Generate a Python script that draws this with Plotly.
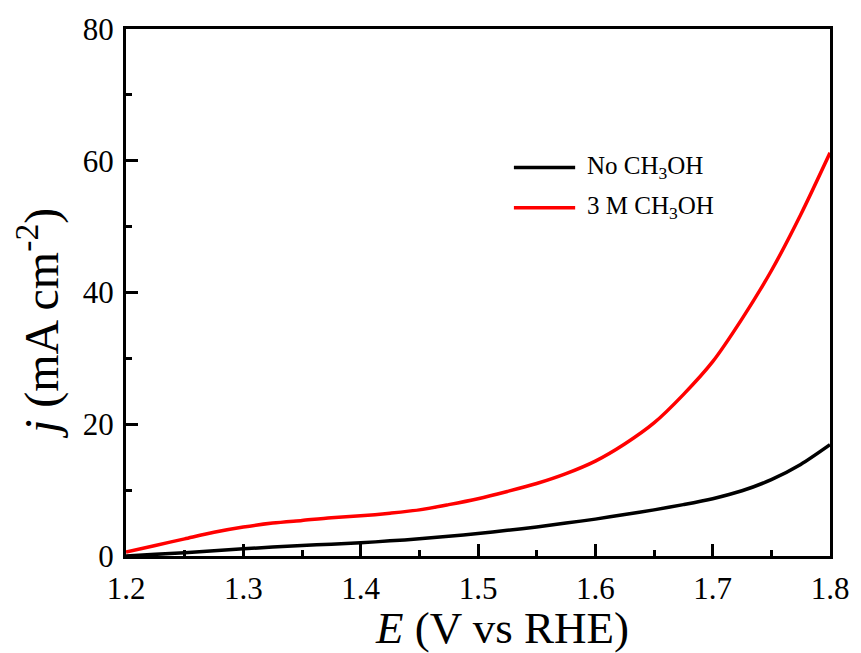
import plotly.graph_objects as go

# Linear sweep voltammetry: potential (V vs RHE) and current density (mA cm^-2)
potential = [1.2, 1.225, 1.25, 1.275, 1.3, 1.325, 1.35, 1.375, 1.4, 1.425, 1.45,
             1.475, 1.5, 1.525, 1.55, 1.575, 1.6, 1.625, 1.65, 1.675, 1.7,
             1.725, 1.75, 1.775, 1.8]
j_no_methanol = [0.0, 0.25, 0.5, 0.8, 1.1, 1.35, 1.6, 1.8, 2.0, 2.3, 2.6,
                 3.0, 3.4, 3.9, 4.4, 5.0, 5.6, 6.3, 7.0, 7.8, 8.7,
                 9.9, 11.6, 13.9, 16.9]
j_methanol = [0.6, 1.6, 2.6, 3.6, 4.4, 5.0, 5.4, 5.8, 6.1, 6.5, 7.0,
              7.8, 8.7, 9.8, 11.0, 12.5, 14.4, 17.0, 20.2, 24.5, 29.5,
              36.0, 43.3, 51.8, 61.2]
series_names = ["No CH<sub>3</sub>OH", "3 M CH<sub>3</sub>OH"]
series_colors = ["#000000", "#ff0000"]

x_ticks = [1.2, 1.3, 1.4, 1.5, 1.6, 1.7, 1.8]
y_ticks = [0, 20, 40, 60, 80]
x_title = "<i>E</i> (V vs RHE)"
y_title = "<i>j</i> (mA cm<sup>-2</sup>)"

FONT = "Liberation Serif, Times New Roman, serif"

fig = go.Figure()
for name, ys, color in zip(series_names, [j_no_methanol, j_methanol], series_colors):
    fig.add_trace(go.Scatter(
        x=potential, y=ys, mode="lines", name=name, showlegend=False,
        line=dict(color=color, width=3.5, shape="spline", smoothing=0.8),
    ))

# Legend drawn as line keys with labels beside them (paper coordinates)
legend_x0, legend_x1, legend_text_x = 0.551, 0.638, 0.652
legend_rows_y = [0.737, 0.661]
for name, color, ly in zip(series_names, series_colors, legend_rows_y):
    fig.add_shape(type="line", xref="paper", yref="paper",
                  x0=legend_x0, x1=legend_x1, y0=ly, y1=ly,
                  line=dict(color=color, width=3.5))
    fig.add_annotation(xref="paper", yref="paper", x=legend_text_x, y=ly,
                       xanchor="left", yanchor="middle", showarrow=False,
                       text=name, font=dict(family=FONT, size=25, color="black"))

# Axis titles placed as annotations
fig.add_annotation(xref="paper", yref="paper", x=0.5345, y=-0.137,
                   xanchor="center", yanchor="middle", showarrow=False,
                   text=x_title, font=dict(family=FONT, size=45, color="black"))
fig.add_annotation(xref="paper", yref="paper", x=-0.125, y=0.44,
                   xanchor="center", yanchor="middle", showarrow=False,
                   textangle=-90,
                   text=y_title, font=dict(family=FONT, size=48, color="black"))

axis_common = dict(
    showline=True, linewidth=3, linecolor="black", mirror=True,
    ticks="inside", ticklen=12, tickwidth=3, tickcolor="black",
    showgrid=False, zeroline=False,
    tickfont=dict(family=FONT, size=31, color="black"),
)

fig.update_xaxes(
    range=[1.2, 1.8], tickvals=x_ticks,
    ticktext=[f"{v:.1f}" for v in x_ticks],
    ticklabelstandoff=3,
    minor=dict(ticks="inside", ticklen=6, tickwidth=3, tickcolor="black", dtick=0.05),
    **axis_common,
)
fig.update_yaxes(
    range=[0, 80], tickvals=y_ticks,
    ticklabelstandoff=3,
    minor=dict(ticks="inside", ticklen=6, tickwidth=3, tickcolor="black", dtick=10),
    **axis_common,
)

fig.update_layout(
    width=861, height=653,
    margin=dict(l=126, r=24, t=29, b=97),
    plot_bgcolor="white", paper_bgcolor="white",
)

fig.write_html("out.html")
